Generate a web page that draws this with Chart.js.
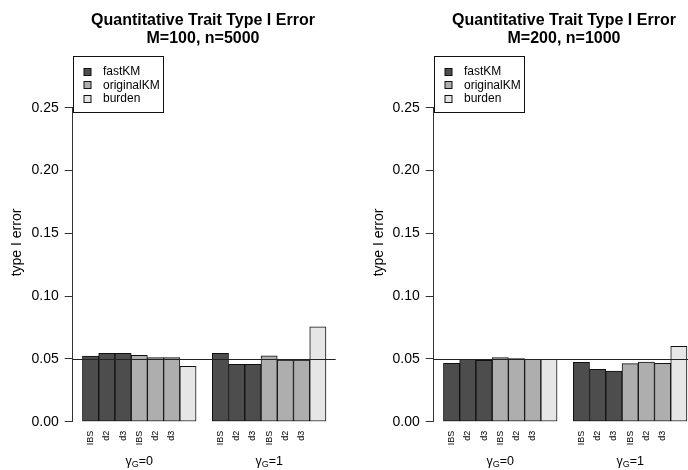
<!DOCTYPE html>
<html>
<head>
<meta charset="utf-8">
<script src="https://cdn.jsdelivr.net/npm/chart.js@4.4.1/dist/chart.umd.min.js"></script>
<style>
  html, body { margin: 0; padding: 0; background: #fff; overflow: hidden; }
  #wrap { position: relative; width: 688px; height: 470px; overflow: hidden; }
  .panel { position: absolute; top: 0; width: 344px; height: 470px; }
</style>
</head>
<body>
<div id="wrap">
  <div class="panel" style="left:0"><canvas id="chartA" width="344" height="470"></canvas></div>
  <div class="panel" style="left:361px"><canvas id="chartB" width="344" height="470"></canvas></div>
</div>
<script>
const methods = ['IBS', 'd2', 'd3'];
const seriesNames = ['fastKM', 'originalKM', 'burden'];
const seriesColors = ['#4D4D4D', '#AEAEAE', '#E6E6E6'];
const gammaValues = ['0', '1'];
const yTicks = [0, 0.05, 0.10, 0.15, 0.20, 0.25];
const nominalLevel = 0.05;

// M=100, n=5000  (rows: gamma_G = 0, 1; columns: IBS, d2, d3)
const fastKM_A = [[0.0523, 0.0545, 0.0545], [0.0545, 0.0457, 0.0457]];
const originalKM_A = [[0.0529, 0.0510, 0.0510], [0.0525, 0.0490, 0.0491]];
const burden_A = [0.0441, 0.0756];

// M=200, n=1000
const fastKM_B = [[0.0465, 0.0497, 0.0489], [0.0473, 0.0417, 0.0404]];
const originalKM_B = [[0.0510, 0.0502, 0.0497], [0.0462, 0.0474, 0.0465]];
const burden_B = [0.0497, 0.0600];

const FONT = "'Liberation Sans', Arial, Helvetica, sans-serif";

// each group: 3 fastKM bars, 3 originalKM bars, 1 burden bar, then one empty slot
const slotsPerGroup = 8;
const tickSlots = [];
const tickText = [];
gammaValues.forEach((g, gi) => {
    [0, 1].forEach(s => methods.forEach((m, k) => {
        tickSlots.push(gi * slotsPerGroup + s * 3 + k + 0.5);
        tickText.push(m);
    }));
});

function kmPoints(rows, s) {
    const pts = [];
    rows.forEach((row, gi) => row.forEach((v, k) => {
        pts.push({ x: gi * slotsPerGroup + s * 3 + k + 0.5, y: v });
    }));
    return pts;
}

function burdenPoints(vals) {
    return vals.map((v, gi) => ({ x: gi * slotsPerGroup + 6.5, y: v }));
}

const decorations = {
    id: 'decorations',
    afterDatasetsDraw(chart) {
        const { ctx, chartArea, scales: { y } } = chart;
        const yy = Math.round(y.getPixelForValue(nominalLevel)) + 0.5;
        ctx.save();
        ctx.strokeStyle = '#222';
        ctx.lineWidth = 1;
        ctx.beginPath();
        ctx.moveTo(chartArea.left, yy);
        ctx.lineTo(chartArea.right, yy);
        ctx.stroke();
        ctx.restore();
    },
    afterDraw(chart, args, opts) {
        const { ctx, chartArea, scales: { x } } = chart;
        ctx.save();
        ctx.fillStyle = '#000';

        // title
        ctx.font = `bold 16px ${FONT}`;
        ctx.textAlign = 'center';
        ctx.textBaseline = 'alphabetic';
        ctx.fillText('Quantitative Trait Type I Error', opts.titleX, 24.5);
        ctx.fillText(opts.subtitle, opts.titleX, 42.5);

        // y label
        ctx.save();
        ctx.translate(opts.ylabX, 242.5);
        ctx.rotate(-Math.PI / 2);
        ctx.font = `14px ${FONT}`;
        ctx.textBaseline = 'middle';
        ctx.fillText('type I error', 0, 0);
        ctx.restore();

        // gamma_G group labels
        gammaValues.forEach((g, gi) => {
            const cx = x.getPixelForValue(gi * slotsPerGroup + 3.5);
            const big = `12.5px ${FONT}`, small = `9px ${FONT}`;
            ctx.font = big;
            const wg = ctx.measureText('\u03b3').width;
            const we = ctx.measureText('=' + g).width;
            ctx.font = small;
            const ws = ctx.measureText('G').width;
            let px = cx - (wg + ws + we) / 2;
            ctx.textAlign = 'left';
            ctx.font = big;
            ctx.fillText('\u03b3', px, 465);
            px += wg;
            ctx.font = small;
            ctx.fillText('G', px, 467);
            px += ws;
            ctx.font = big;
            ctx.fillText('=' + g, px, 465);
        });

        // legend
        const lx = Math.round(chartArea.left) + 0.5, ly = 56.5, lw = 90, lh = 56;
        ctx.fillStyle = '#fff';
        ctx.fillRect(lx, ly, lw, lh);
        ctx.strokeStyle = '#111';
        ctx.lineWidth = 1;
        ctx.strokeRect(lx, ly, lw, lh);
        ctx.font = `12px ${FONT}`;
        ctx.textBaseline = 'middle';
        ctx.textAlign = 'left';
        seriesNames.forEach((name, i) => {
            const ry = 71.5 + i * 13.7;
            ctx.fillStyle = seriesColors[i];
            ctx.fillRect(lx + 10.5, Math.round(ry - 4) + 0.5, 7, 7);
            ctx.strokeRect(lx + 10.5, Math.round(ry - 4) + 0.5, 7, 7);
            ctx.fillStyle = '#000';
            ctx.fillText(name, lx + 29.5, ry);
        });
        ctx.restore();
    }
};

function buildChart(id, fast, orig, burden, subtitle, ylabX) {
    const barStyle = {
        borderColor: '#111',
        borderWidth: 1,
        borderSkipped: false,
        grouped: false,
        barPercentage: 1,
        categoryPercentage: 1
    };
    new Chart(document.getElementById(id), {
        type: 'bar',
        data: {
            datasets: [
                { label: seriesNames[0], data: kmPoints(fast, 0), backgroundColor: seriesColors[0], ...barStyle },
                { label: seriesNames[1], data: kmPoints(orig, 1), backgroundColor: seriesColors[1], ...barStyle },
                { label: seriesNames[2], data: burdenPoints(burden), backgroundColor: seriesColors[2], ...barStyle }
            ]
        },
        options: {
            responsive: false,
            animation: false,
            devicePixelRatio: 1,
            layout: { padding: { top: 107.7, right: 8.3, bottom: 0, left: 0 } },
            plugins: {
                legend: { display: false },
                tooltip: { enabled: false },
                decorations: { subtitle, titleX: 203, ylabX }
            },
            scales: {
                x: {
                    type: 'linear',
                    min: -0.6,
                    max: 15.6,
                    offset: false,
                    bounds: 'data',
                    afterBuildTicks: s => { s.ticks = tickSlots.map(v => ({ value: v })); },
                    afterFit: s => { s.height = 48.3; },
                    grid: { display: false, drawTicks: false, offset: false },
                    border: { display: false },
                    ticks: {
                        autoSkip: false,
                        minRotation: 90,
                        maxRotation: 90,
                        padding: 9,
                        color: '#000',
                        font: { family: FONT, size: 9 },
                        callback: (v, i) => tickText[i]
                    }
                },
                y: {
                    min: 0,
                    max: 0.25,
                    afterBuildTicks: s => { s.ticks = yTicks.map(v => ({ value: v })); },
                    afterFit: s => { s.width = 72.7; },
                    grid: { drawOnChartArea: false, drawTicks: true, tickLength: 8, color: '#333' },
                    border: { display: true, color: '#333', width: 1 },
                    ticks: {
                        padding: 6,
                        color: '#000',
                        font: { family: FONT, size: 14 },
                        callback: v => v.toFixed(2)
                    }
                }
            }
        },
        plugins: [decorations]
    });
}

buildChart('chartA', fastKM_A, originalKM_A, burden_A, 'M=100, n=5000', 17.5);
buildChart('chartB', fastKM_B, originalKM_B, burden_B, 'M=200, n=1000', 18.5);
</script>
</body>
</html>
